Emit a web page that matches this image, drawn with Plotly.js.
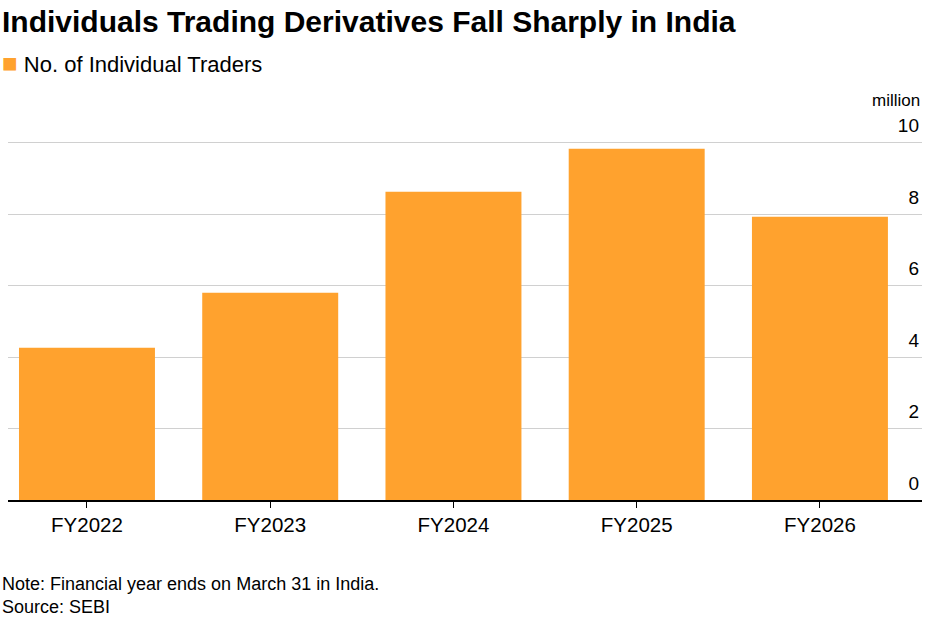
<!DOCTYPE html>
<html><head><script src="https://cdn.plot.ly/plotly-3.0.1.min.js"></script>
<style>body{margin:0}</style></head><body>
<div id="chart" style="width:937px;height:623px"></div>
<script>
const years = ['FY2022', 'FY2023', 'FY2024', 'FY2025', 'FY2026'];
const traders = [4.26, 5.8, 8.63, 9.83, 7.93];
const yTicks = [0, 2, 4, 6, 8, 10];

const font = 'Liberation Sans, Arial, sans-serif';
const trace = {
    x: years, y: traders, type: 'bar', name: 'No. of Individual Traders',
    marker: {color: '#ffa22e'}, hoverinfo: 'x+y'
};
const layout = {
    width: 937, height: 623,
    margin: {l: 8, r: 15, t: 107.3, b: 123},
    paper_bgcolor: '#fff', plot_bgcolor: '#fff',
    font: {family: font, size: 18, color: '#000'},
    bargap: 0.258,
    showlegend: false,
    xaxis: {range: [-0.431, 4.557], showline: true, linecolor: '#000', linewidth: 1.5, ticks: 'outside', ticklen: 6, tickcolor: '#000',
            tickfont: {size: 20.5, color: '#000'}, automargin: false, fixedrange: true},
    yaxis: {range: [0, 11], tickvals: yTicks, side: 'right', ticklabelposition: 'inside',
            ticklabelshift: -17, gridcolor: '#d0d0d0', zeroline: false, automargin: false,
            tickfont: {size: 19, color: '#000'}, fixedrange: true},
    annotations: [
        {text: '<b>Individuals Trading Derivatives Fall Sharply in India</b>', xref: 'paper', yref: 'paper', x: -0.009, y: 1.217, xanchor: 'left', yanchor: 'middle', showarrow: false, font: {size: 30}},
        {text: '<span style="color:#ffa22e;font-size:26px">■</span> No. of Individual Traders', xref: 'paper', yref: 'paper', x: -0.009, y: 1.113, xanchor: 'left', yanchor: 'middle', showarrow: false, font: {size: 22}},
        {text: 'million', xref: 'paper', yref: 'paper', x: 1.0, y: 1.016, xanchor: 'right', yanchor: 'middle', showarrow: false, font: {size: 17}},
        {text: 'Note: Financial year ends on March 31 in India.<br>Source: SEBI', xref: 'paper', yref: 'paper', x: -0.009, y: -0.183, xanchor: 'left', yanchor: 'top', align: 'left', showarrow: false, font: {size: 18}}
    ]
};
Plotly.newPlot('chart', [trace], layout, {displayModeBar: false});
</script></body></html>
